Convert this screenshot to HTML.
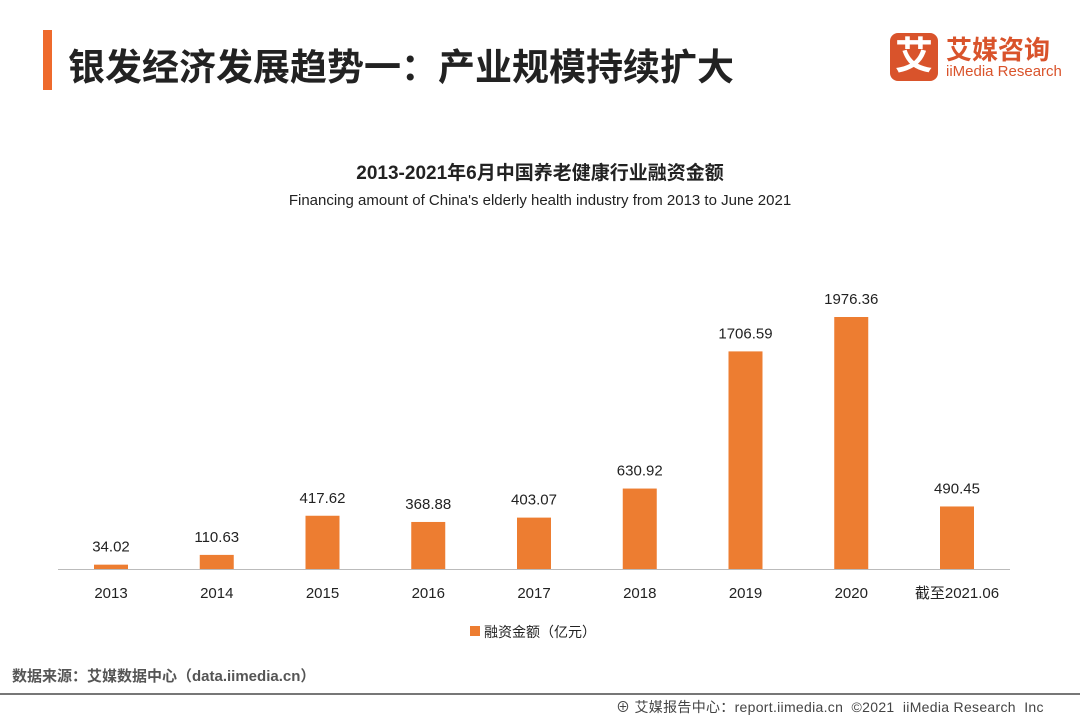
<!DOCTYPE html>
<html><head><meta charset="utf-8"><style>
body{margin:0;width:1080px;height:720px;background:#fff;font-family:"Liberation Sans","Noto Sans CJK SC",sans-serif;position:relative;overflow:hidden}
.a{position:absolute;white-space:nowrap}
</style></head><body>
<div class="a" style="left:43px;top:30px;width:9px;height:60px;background:#ee6a2c"></div>
<div class="a" style="left:68px;top:37px;font-size:37px;font-weight:bold;color:#222">银发经济发展趋势一：产业规模持续扩大</div>
<div class="a" style="left:890px;top:33px;width:48px;height:48px;background:#d9532b;border-radius:8px;color:#fff;font-size:38px;font-weight:bold;text-align:center;line-height:48px">艾</div>
<div class="a" style="left:946px;top:30px;font-size:26px;font-weight:bold;color:#d9532b">艾媒咨询</div>
<div class="a" style="left:946px;top:63px;font-size:15px;color:#d9532b">iiMedia Research</div>
<div class="a" style="left:0;width:1080px;text-align:center;top:158px;font-size:19px;font-weight:bold;color:#222">2013-2021年6月中国养老健康行业融资金额</div>
<div class="a" style="left:0;width:1080px;text-align:center;top:192px;font-size:15px;color:#222">Financing amount of China's elderly health industry from 2013 to June 2021</div>
<svg class="a" style="left:0;top:0" width="1080" height="720" id="chart"></svg>
<div class="a" style="left:470px;top:626px;width:10px;height:10px;background:#ed7d31"></div>
<div class="a" style="left:484px;top:622px;font-size:14px;color:#222">融资金额（亿元）</div>
<div class="a" style="left:12px;top:665px;font-size:15px;font-weight:bold;color:#555">数据来源：艾媒数据中心（data.iimedia.cn）</div>
<div class="a" style="left:0;top:693px;width:1080px;height:2px;background:#777"></div>
<div class="a" style="left:616px;top:697px;font-size:14px;color:#444;letter-spacing:0.3px">⊕ 艾媒报告中心：report.iimedia.cn &nbsp;©2021 &nbsp;iiMedia Research &nbsp;Inc</div>
<script>
const categories=["2013","2014","2015","2016","2017","2018","2019","2020","截至2021.06"];
const values=[34.02,110.63,417.62,368.88,403.07,630.92,1706.59,1976.36,490.45];
const labels=["34.02","110.63","417.62","368.88","403.07","630.92","1706.59","1976.36","490.45"];
const svg=document.getElementById('chart');const NS='http://www.w3.org/2000/svg';
const base=569,scale=252/1976.36,x0=111,step=105.75,bw=34;
const xs=i=>x0+i*step, ys=v=>base-v*scale;
function mk(t,a){const e=document.createElementNS(NS,t);for(const k in a)e.setAttribute(k,a[k]);svg.appendChild(e);return e;}
const ax=mk('line',{x1:58,x2:1010,y1:base+0.5,y2:base+0.5,stroke:'#bbb'});


categories.forEach((c,i)=>{
const r=mk('rect',{x:xs(i)-bw/2,y:ys(values[i]),width:bw,height:values[i]*scale,fill:'#ed7d31'});


const t=mk('text',{x:xs(i),y:ys(values[i])-13,'text-anchor':'middle','font-size':15,fill:'#222','font-family':'Liberation Sans'});t.textContent=labels[i];


const l=mk('text',{x:xs(i),y:base+29,'text-anchor':'middle','font-size':15,fill:'#222','font-family':'Liberation Sans, Noto Sans CJK SC, sans-serif'});l.textContent=c;


});
</script>
</body></html>
